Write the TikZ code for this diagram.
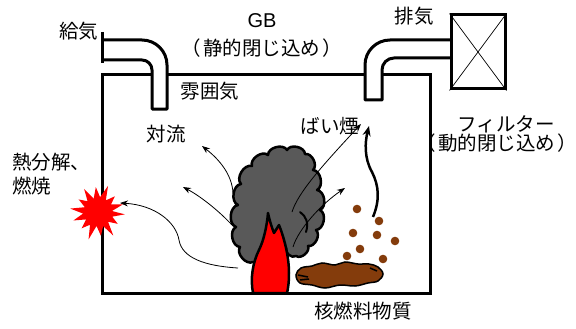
\documentclass[tikz,border=0pt]{standalone}
\usepackage{fontspec}
\setmainfont{Liberation Sans}
\newfontfamily\jp{Noto Sans CJK JP}
\usetikzlibrary{arrows.meta}
\definecolor{smoke}{RGB}{89,89,89}
\definecolor{soil}{RGB}{132,60,12}
\definecolor{fire}{RGB}{255,0,0}
% full-width brackets set a little further out from the enclosed words
\newcommand\openbr{\makebox[1em][l]{\kern-0.12em（}}
\newcommand\closebr{\makebox[1em][l]{\kern0.12em）}}
\begin{document}
\begin{tikzpicture}[x=1pt,y=-1pt,
  wall/.style={line width=3pt,line join=miter},
  pipe/.style={line width=3pt,line join=round},
  jtext/.style={font=\jp\fontsize{19.5}{22}\selectfont,inner sep=0pt},
  ltext/.style={font=\fontsize{20}{22}\selectfont,inner sep=0pt},
  flow/.style={line width=0.8pt,-{Stealth[length=8pt,width=6pt]}},
  rise/.style={line width=2.5pt,-{Stealth[length=10pt,width=8pt]}},
  outline/.style={line width=2.5pt,line join=round},
  particle/.style={fill=soil},
  puff/.style={bend left=75},
]
\useasboundingbox (0,0) rectangle (576,329);

% glovebox walls
\draw[wall] (152,75) -- (102,75) -- (102,293) -- (430,293) -- (430,75) -- (382,75);
\draw[wall] (167,75) -- (365,75);

% inlet pipe with flange
\draw[pipe] (102,40) -- (142,40) arc[start angle=-90,end angle=0,radius=25]
  -- (167,109) -- (152,109) -- (152,70) arc[start angle=0,end angle=-90,radius=10]
  -- (102,60);
\draw[line width=3pt] (102,32) -- (102,63);

% outlet pipe to the filter
\draw[pipe] (451,40) -- (390,40) arc[start angle=-90,end angle=-180,radius=25]
  -- (365,100) -- (382,100) -- (382,70) arc[start angle=180,end angle=270,radius=12]
  -- (451,58);
\node[draw,line width=3pt,minimum width=54pt,minimum height=74pt,inner sep=0pt] (filterbox) at (478,52) {};
\draw[line width=0.7pt] (filterbox.north west) -- (filterbox.south east)
  (filterbox.north east) -- (filterbox.south west);

% burst where the wall ignites
\begin{scope}[shift={(98,212)}]
\fill[fire] (5:27) -- (18:15) -- (31:23) -- (44:14) -- (57:28) -- (70:15) -- (83:24)
  -- (96:14) -- (109:29) -- (122:15) -- (135:23) -- (148:14) -- (161:26) -- (174:15)
  -- (187:28) -- (200:14) -- (213:23) -- (226:15) -- (239:27) -- (252:14) -- (265:25)
  -- (278:15) -- (291:28) -- (304:14) -- (317:23) -- (330:15) -- (343:26) -- (356:14) -- cycle;
\end{scope}

% smoke cloud
\draw[outline,fill=smoke] (253,262) to[puff] (240,247) to[puff] (236,227)
  to[puff] (238,205) to[puff] (241,184) to[puff] (252,166)
  to[puff] (268,155) to[puff] (287,150) to[puff] (305,154)
  to[puff] (313,170) to[puff] (317,190) to[puff] (320,210)
  to[puff] (316,230) to[puff] (308,246) to[puff] (296,256)
  to[puff] (286,248) -- (270,268) -- cycle;
\draw[line width=2pt,line cap=round] (300,212) .. controls (306,216) and (309,223) .. (306,232);

% flame
\draw[outline,fill=fire] (253,293) .. controls (250,278) and (253,262) .. (259,250)
  .. controls (264,240) and (267,225) .. (268,213)
  .. controls (270,222) and (272,228) .. (274,233)
  .. controls (276,230) and (277,228) .. (279,225)
  .. controls (285,240) and (289,258) .. (289,273)
  .. controls (289,283) and (288,289) .. (287,293) -- cycle;

% convection flows
\coordinate (c1) at (233,193);
\coordinate (c1h) at (202,146);
\draw[flow] (c1) .. controls (232,175) and (220,160) .. (c1h);
\coordinate (c2) at (232,225);
\coordinate (c2h) at (183,187);
\draw[flow] (c2) .. controls (218,210) and (200,196) .. (c2h);
\coordinate (c3) at (238,268);
\draw[flow] (c3) .. controls (205,266) and (182,258) .. (179,240)
  .. controls (176,222) and (155,205) .. (120,203);
\coordinate (s1) at (292,212);
\coordinate (s1h) at (361,124);
\draw[flow] (s1) .. controls (298,193) and (320,168) .. (s1h);
\coordinate (s2) at (293,247);
\coordinate (s2h) at (345,188);
\draw[flow] (s2) .. controls (298,230) and (320,205) .. (s2h);

% rising particles
\coordinate (p0) at (373,217);
\coordinate (p1) at (369,126);
\draw[rise] (p0) .. controls (380,200) and (379,186) .. (372,172)
  .. controls (364,158) and (365,142) .. (p1);

\foreach \px/\py in {357/209,379/221,353/233,377/235,395/241,360/249,347/256,383/259}
  \fill[particle] (\px,\py) circle[radius=4.3];

% spilled nuclear material
\draw[line width=1.5pt,fill=soil] plot[smooth cycle,tension=0.6] coordinates {
  (296,275) (301,268) (312,266) (322,263) (335,265) (345,262) (358,264) (369,264)
  (378,267) (383,274) (378,281) (368,283) (355,286) (340,285) (325,288) (312,285) (300,283)};
\draw[line width=1.5pt] (298,275) -- (308,277) (300,280) -- (309,279) (370,268) -- (377,271);

% labels
\node[jtext] (kyuki) at (79,31) {給気};
\node[ltext] (gb) at (262,21) {GB};
\node[jtext] (static) at (262,48) {\openbr 静的閉じ込め\closebr};
\node[jtext] (haiki) at (414,16) {排気};
\node[jtext] (atm) at (210,91) {雰囲気};
\node[jtext] (filter) at (506,124) {フィルター};
\node[jtext] (dynamic) at (497,143) {\openbr 動的閉じ込め\closebr};
\node[jtext] (conv) at (166,134) {対流};
\node[jtext,anchor=west] (pyro) at (12,162) {熱分解、};
\node[jtext,anchor=west] (burn) at (12,186) {燃焼};
\node[jtext] (soot) at (330,126) {ばい煙};
\node[jtext] (fuel) at (363,311) {核燃料物質};
\end{tikzpicture}
\end{document}
